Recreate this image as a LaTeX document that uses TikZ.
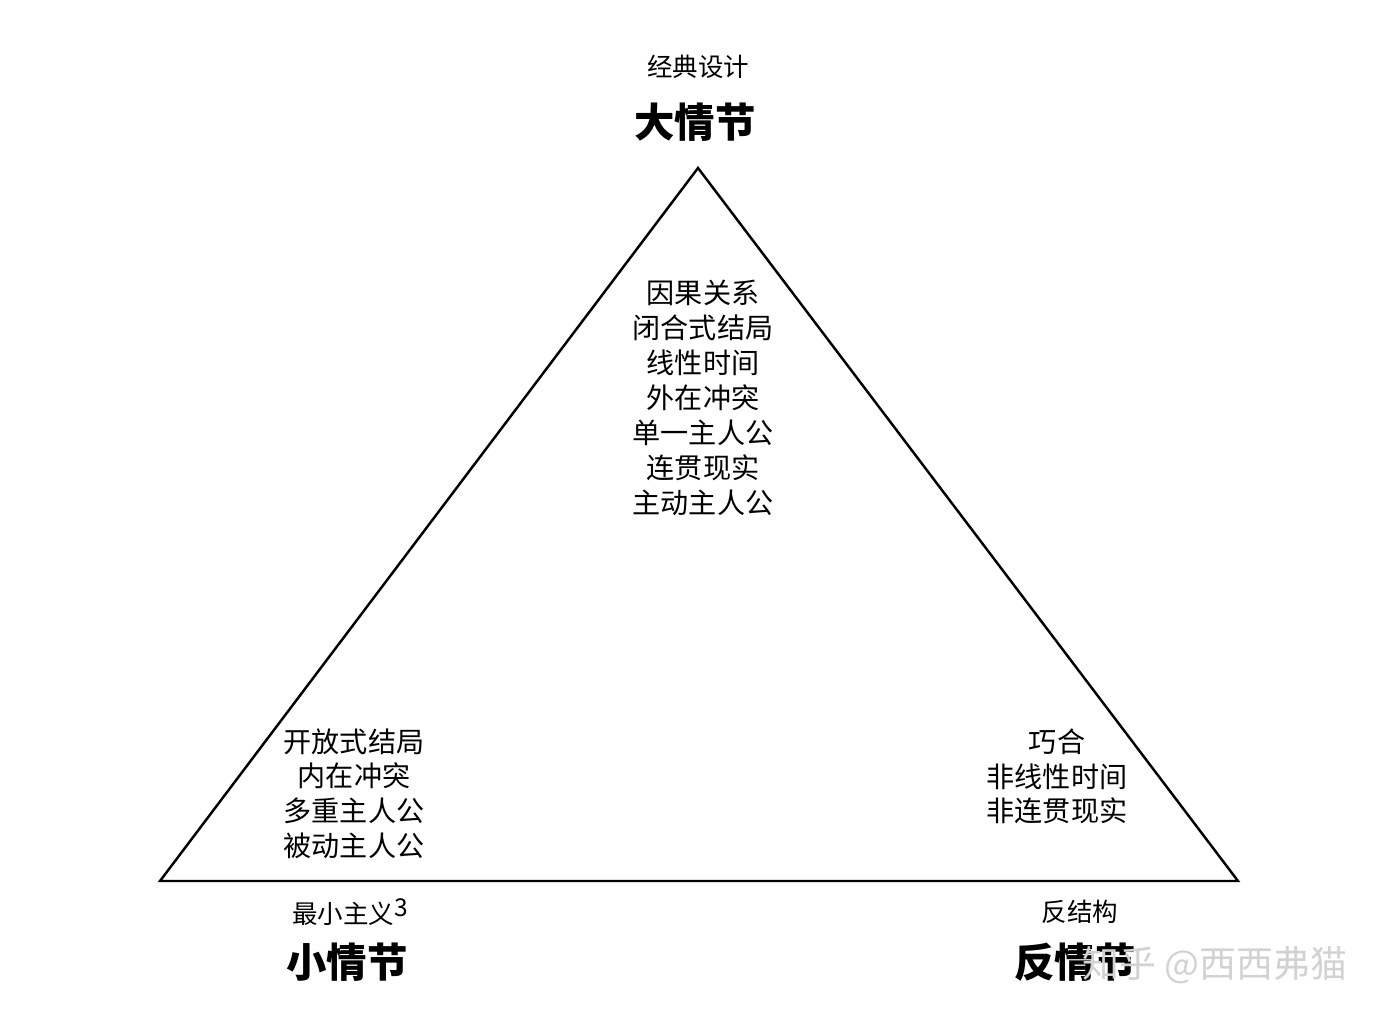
\documentclass[tikz,border=0pt]{standalone}
\usepackage{fontspec}
\setmainfont{Noto Sans CJK SC}
\begin{document}
\begin{tikzpicture}[x=0.02cm,y=-0.02cm,
  lst/.style={align=center,font=\fontsize{16}{19.9}\selectfont,inner sep=0},
  sml/.style={font=\fontsize{14.5}{17}\selectfont,inner sep=0},
  big/.style={font=\fontsize{23}{26}\selectfont\bfseries,inner sep=0}]
\useasboundingbox (0,0) rectangle (1400,1024);
\coordinate (A) at (698,168);
\coordinate (B) at (160,881);
\coordinate (C) at (1238,881);
\draw[line width=1.4pt,line join=miter] (A) -- (B) -- (C) -- cycle;
\node[sml] (t1) at (698,67) {经典设计};
\node[big] (t2) at (695,122) {大情节};
\node[lst,anchor=north] (mid) at (703,280) {因果关系\\闭合式结局\\线性时间\\外在冲突\\单一主人公\\连贯现实\\主动主人公};
\node[lst,anchor=north] (left) at (354,728) {开放式结局\\内在冲突\\多重主人公\\被动主人公};
\node[lst,anchor=north] (right) at (1057,728) {巧合\\非线性时间\\非连贯现实};
\node[sml] (l1) at (350,912) {最小主义\raisebox{0.5ex}{\fontsize{14}{14}\selectfont 3}};
\node[big] (l2) at (347,962) {小情节};
\node[sml] (r1) at (1080,912) {反结构};
\node[big] (r2) at (1075,962) {反情节};
\node[font=\fontsize{21}{24}\selectfont,text=gray!35,inner sep=0] (wm) at (1215,965) {知乎 @西西弗猫};
\end{tikzpicture}
\end{document}
